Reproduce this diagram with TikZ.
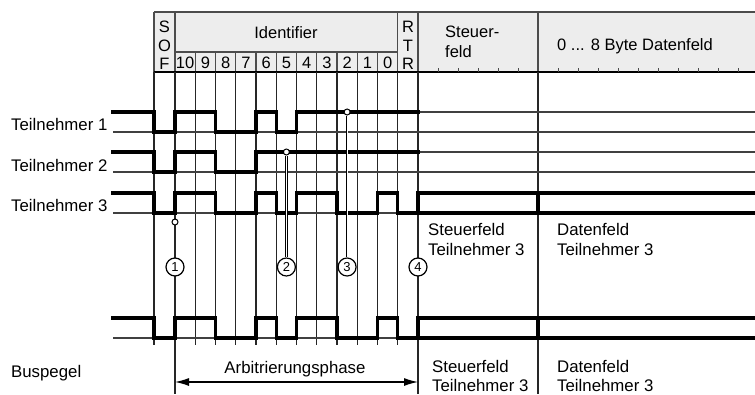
\documentclass[tikz,border=0pt]{standalone}
\usepackage{fontspec}
\setmainfont{Liberation Sans}
\usetikzlibrary{arrows.meta}
\tikzset{
  hdrline/.style={draw=black!70,line width=1.1pt},
  gridline/.style={draw=black!85,line width=1.2pt},
  thinsig/.style={draw=black!75,line width=1.1pt},
  thicksig/.style={draw=black,line width=3.3pt,line cap=rect},
  tick/.style={draw=black!70,line width=1pt},
  lbl/.style={inner sep=0pt,font=\fontsize{16.8}{20}\selectfont},
  hdr/.style={inner sep=0pt,font=\fontsize{16.5}{20}\selectfont},
  num/.style={circle,draw=black,line width=1.2pt,fill=white,minimum size=18pt,inner sep=0pt,font=\fontsize{13}{13}\selectfont},
  dotc/.style={circle,draw=black,line width=1pt,fill=white,minimum size=6pt,inner sep=0pt},
  mline/.style={draw=black,line width=0.7pt,double=white,double distance=1pt},
  arbarrow/.style={draw=black,line width=1.2pt,{Latex[length=14pt,width=8pt]}-{Latex[length=14pt,width=8pt]}}
}
\begin{document}
\begin{tikzpicture}[x=1pt,y=-1pt]
\useasboundingbox (0,0) rectangle (755,394);
% header
\fill[black!7] (154,12) rectangle (755,72);
\draw[hdrline] (154,12) -- (755,12);
\foreach \x in {154,175,397.75,418,538} \draw[hdrline] (\x,12) -- (\x,72);
\draw[hdrline] (175,52) -- (397.75,52);
\foreach \x in {195.25,215.5,235.75,256,276.25,296.5,316.75,337,357.25,377.5} \draw[hdrline] (\x,52) -- (\x,72);
\draw[draw=black,line width=1.6pt] (154,72) -- (755,72);
\foreach \x in {438,458,478,498,518,558,578,598,618,638,658,678,698,718,738} \draw[tick] (\x,68) -- (\x,72);
% header texts
\node[hdr,anchor=base] (s1) at (164.5,32) {S};
\node[hdr,anchor=base] (s2) at (164.5,51) {O};
\node[hdr,anchor=base] (s3) at (164.5,69) {F};
\node[hdr,anchor=base] (r1) at (408,32) {R};
\node[hdr,anchor=base] (r2) at (408,51) {T};
\node[hdr,anchor=base] (r3) at (408,69) {R};
\node[hdr,anchor=base] (ident) at (286,38) {Identifier};
\foreach \x/\t [count=\k] in {185.1/10,205.4/9,225.6/8,245.9/7,266.1/6,286.4/5,306.6/4,326.9/3,347.1/2,367.4/1,387.6/0}
  \node[hdr,anchor=base] (b\k) at (\x,68) {\t};
\node[hdr,anchor=base west] (st1) at (445,37) {Steuer-};
\node[hdr,anchor=base west] (st2) at (445,57) {feld};
\node[hdr,anchor=base west] (df) at (557,50) {0 ... 8 Byte Datenfeld};
% grid
\foreach \x in {154,195.25,215.5,235.75,256,276.25,296.5,316.75,337,357.25,377.5,397.75} \draw[gridline] (\x,72) -- (\x,345);
\foreach \x in {175,418,538} \draw[gridline] (\x,72) -- (\x,394);
% thin levels
\foreach \y in {132,172,213,338} \draw[thinsig] (113,\y) -- (755,\y);
\draw[thinsig] (418,112) -- (755,112);
\draw[thinsig] (418,152) -- (755,152);
% Teilnehmer 1
\foreach \a/\b in {113/154,175/215.5,256/276.25,296.5/418} \draw[thicksig] (\a,112) -- (\b,112);
\foreach \a/\b in {154/175,215.5/256,276.25/296.5} \draw[thicksig] (\a,132) -- (\b,132);
\foreach \x in {154,175,215.5,256,276.25,296.5} \draw[thicksig] (\x,112) -- (\x,132);
% Teilnehmer 2
\foreach \a/\b in {113/154,175/215.5,256/418} \draw[thicksig] (\a,152) -- (\b,152);
\foreach \a/\b in {154/175,215.5/256} \draw[thicksig] (\a,172) -- (\b,172);
\foreach \x in {154,175,215.5,256} \draw[thicksig] (\x,152) -- (\x,172);
% Teilnehmer 3 and bus
\foreach \h/\l in {193/213,318/338}{
  \foreach \a/\b in {113/154,175/215.5,256/276.25,296.5/337,377.5/397.75,418/755} \draw[thicksig] (\a,\h) -- (\b,\h);
  \foreach \a/\b in {154/175,215.5/256,276.25/296.5,337/377.5,397.75/755} \draw[thicksig] (\a,\l) -- (\b,\l);
  \foreach \x in {154,175,215.5,256,276.25,296.5,337,377.5,397.75,418,538} \draw[thicksig] (\x,\h) -- (\x,\l);
}
% markers
\node[dotc] (d1) at (175,222) {};
\node[dotc] (d2) at (286.4,152) {};
\node[dotc] (d3) at (347.1,112) {};
\node[num] (m1) at (175,267) {1};
\node[num] (m2) at (286.4,267) {2};
\node[num] (m3) at (347.1,267) {3};
\node[num] (m4) at (418,267) {4};
\draw[mline] (d2) -- (m2);
\draw[mline] (d3) -- (m3);
% labels
\node[lbl,anchor=base west] (t1) at (11,130) {Teilnehmer 1};
\node[lbl,anchor=base west] (t2) at (11,171) {Teilnehmer 2};
\node[lbl,anchor=base west] (t3) at (11,211) {Teilnehmer 3};
\node[lbl,anchor=base west] (bp) at (11,377) {Buspegel};
\node[lbl,anchor=base west] (sf1) at (428,235) {Steuerfeld};
\node[lbl,anchor=base west] (sf2) at (428,255) {Teilnehmer 3};
\node[lbl,anchor=base west] (dd1) at (557,235) {Datenfeld};
\node[lbl,anchor=base west] (dd2) at (557,255) {Teilnehmer 3};
\node[lbl,anchor=base west] (sb1) at (432,372) {Steuerfeld};
\node[lbl,anchor=base west] (sb2) at (432,391) {Teilnehmer 3};
\node[lbl,anchor=base west] (db1) at (557,372) {Datenfeld};
\node[lbl,anchor=base west] (db2) at (557,391) {Teilnehmer 3};
\node[lbl,anchor=base] (arb) at (295,373) {Arbitrierungsphase};
\coordinate (a1) at (175,382);
\coordinate (a2) at (418,382);
\draw[arbarrow] (a1) -- (a2);
\end{tikzpicture}
\end{document}
